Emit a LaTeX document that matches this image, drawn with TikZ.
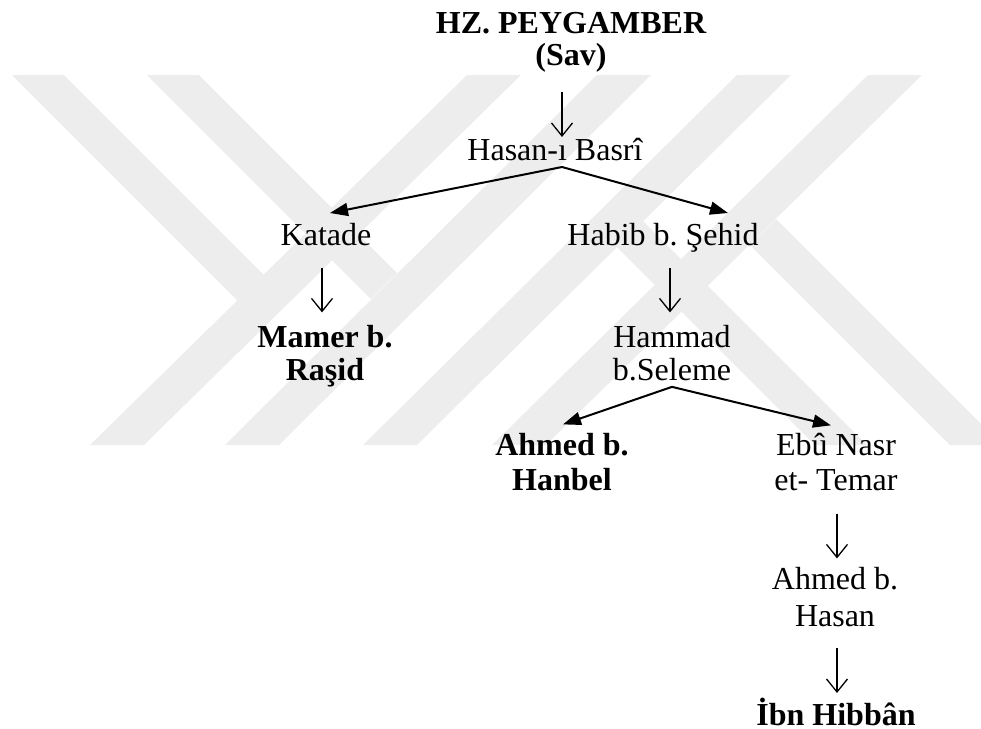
\documentclass[tikz,border=0pt]{standalone}
\usepackage{fontspec}
\setmainfont{Liberation Serif}
\usetikzlibrary{arrows.meta}
\frenchspacing

\tikzset{
  person/.style={inner sep=0pt, anchor=base, align=center,
    font=\fontsize{16}{16}\selectfont},
  personbold/.style={person, font=\fontsize{16}{16}\selectfont\bfseries},
  descend/.style={-{Straight Barb[length=6.5pt,width=10.5pt]}, line width=0.65pt},
  branch/.style={-{Triangle[length=9pt,width=6.5pt]}, line width=1pt},
  wmark/.style={fill=black!7, draw=none}
}

\begin{document}
\begin{tikzpicture}[x=0.5pt, y=-0.5pt]
		\useasboundingbox (0,0) rectangle (981,729);
		% watermark
		\fill[wmark] (467,75) -- (521,75) -- (144,445) -- (90,445) -- cycle;
		\fill[wmark] (597,75) -- (651,75) -- (279,445) -- (225,445) -- cycle;
		\fill[wmark] (737,75) -- (791,75) -- (417,445) -- (363,445) -- cycle;
		\fill[wmark] (868,75) -- (922,75) -- (546,445) -- (492,445) -- cycle;
		\fill[wmark] (12,75) -- (64,75) -- (264,275) -- (238,301) -- cycle;
		\fill[wmark] (147,75) -- (199,75) -- (397,273) -- (371,299) -- cycle;
		\fill[wmark] (1002,445) -- (950,445) -- (750,245) -- (776,219) -- cycle;
		\fill[wmark] (867,445) -- (815,445) -- (617,247) -- (643,221) -- cycle;

		% names (base = last line)
		\node[personbold] (prophet) at (571,65) {HZ. PEYGAMBER\\(Sav)};
		\node[person] (hasan) at (555,160) {Hasan-ı Basrî};
		\node[person] (katade) at (326,245) {Katade};
		\node[person] (habib) at (663,245) {Habib b. Şehid};
		\node[personbold] (mamer) at (325,380) {Mamer b.\\[0.5pt]Raşid};
		\node[person] (hammad) at (672,380) {Hammad\\[0.5pt]b.Seleme};
		\node[personbold] (hanbel) at (562,490) {Ahmed b.\\[1.5pt]Hanbel};
		\node[person] (ebunasr) at (836,490) {Ebû Nasr\\[1.5pt]et- Temar};
		\node[person] (ahmedhasan) at (835,626) {Ahmed b.\\[2.5pt]Hasan};
		\node[personbold] (hibban) at (836,725) {İbn Hibbân};

		% links
		\draw[descend] ([shift={(-9,20)}]prophet.south) -- ([shift={(7,-23)}]hasan.base);
		\draw[branch] ([shift={(7,7)}]hasan.base) -- ([shift={(4,-32)}]katade.base);
		\draw[branch] ([shift={(7,7)}]hasan.base) -- ([shift={(65,-32)}]habib.base);
		\draw[descend] ([shift={(-4,23)}]katade.base) -- ([shift={(-3,-12)}]mamer.north);
		\draw[descend] ([shift={(7,23)}]habib.base) -- ([shift={(-2,-12)}]hammad.north);
		\draw[branch] ([shift={(0,6)}]hammad.south) -- ([shift={(1,-8)}]hanbel.north);
		\draw[branch] ([shift={(0,6)}]hammad.south) -- ([shift={(-5,-7)}]ebunasr.north);
		\draw[descend] ([shift={(1,23)}]ebunasr.south) -- ([shift={(2,-8)}]ahmedhasan.north);
		\draw[descend] ([shift={(2,21)}]ahmedhasan.south) -- ([shift={(1,-32)}]hibban.base);
	\end{tikzpicture}
\end{document}
